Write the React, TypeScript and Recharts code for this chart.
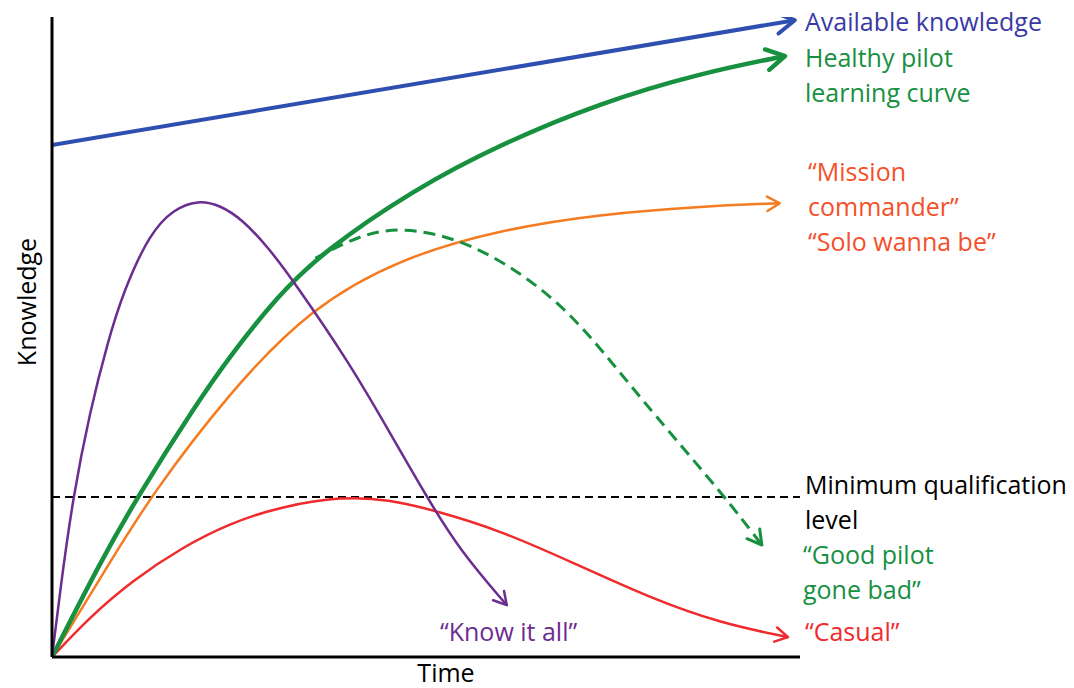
import { LineChart, Line, XAxis, YAxis, ReferenceLine } from 'recharts'

// Series points (x = time 0..100, y = knowledge 0..100)
const available = [
  { x: 0, y: 80 },
  { x: 99.3, y: 99.5 },
]

const healthy = [
  { x: 0, y: 0 },
  { x: 6.4, y: 14.7 },
  { x: 11.4, y: 25 },
  { x: 19.4, y: 39.7 },
  { x: 23.8, y: 47 },
  { x: 30, y: 56.2 },
  { x: 36.2, y: 63.3 },
  { x: 48.3, y: 73 },
  { x: 59.9, y: 80.1 },
  { x: 73.3, y: 86.6 },
  { x: 86.6, y: 91.2 },
  { x: 98, y: 93.9 },
]

const mission = [
  { x: 0, y: 0 },
  { x: 7.7, y: 14.7 },
  { x: 13.1, y: 25 },
  { x: 23.8, y: 41.5 },
  { x: 34.5, y: 54.5 },
  { x: 46.5, y: 62.3 },
  { x: 60, y: 66.8 },
  { x: 73.3, y: 69.2 },
  { x: 86.6, y: 70.4 },
  { x: 97.3, y: 70.9 },
]

const knowItAll = [
  { x: 0, y: 0 },
  { x: 1.1, y: 10.5 },
  { x: 2.8, y: 25 },
  { x: 5.1, y: 38.5 },
  { x: 7.4, y: 49 },
  { x: 9.5, y: 57 },
  { x: 13.1, y: 66.3 },
  { x: 16.3, y: 70 },
  { x: 19.5, y: 71.4 },
  { x: 22.5, y: 70.6 },
  { x: 25.5, y: 68.3 },
  { x: 28.9, y: 64 },
  { x: 32.2, y: 58.9 },
  { x: 39.8, y: 45.9 },
  { x: 45, y: 35.4 },
  { x: 50.1, y: 25 },
  { x: 54.5, y: 16.7 },
  { x: 60.8, y: 8.1 },
]

const casual = [
  { x: 0, y: 0 },
  { x: 5.1, y: 6.3 },
  { x: 10.8, y: 12 },
  { x: 17.5, y: 17.2 },
  { x: 23.8, y: 20.9 },
  { x: 30.5, y: 23.5 },
  { x: 38.9, y: 25.1 },
  { x: 45, y: 24.6 },
  { x: 50.9, y: 23 },
  { x: 59.9, y: 19.8 },
  { x: 69.7, y: 14.7 },
  { x: 80, y: 9.2 },
  { x: 89.3, y: 5.3 },
  { x: 98.4, y: 3.1 },
]

const goneBad = [
  { x: 35.2, y: 62.3 },
  { x: 41.2, y: 66 },
  { x: 46.9, y: 67.2 },
  { x: 54.6, y: 65.3 },
  { x: 62.2, y: 60.5 },
  { x: 68.9, y: 54.2 },
  { x: 74.6, y: 46.4 },
  { x: 80, y: 38.6 },
  { x: 90, y: 25 },
  { x: 94.9, y: 17.5 },
]

const minQualification = 25

const BLUE = '#2f4fb0'
const GREEN = '#17903f'
const ORANGE = '#f47b20'
const PURPLE = '#6b2d8f'
const RED = '#ef2b2d'

const font = '"Open Sans", Lato, sans-serif'

function Arrow({ id, color, size, width }: { id: string; color: string; size: number; width: number }) {
  return (
    <marker
      id={id}
      viewBox="0 0 20 20"
      refX={18}
      refY={10}
      markerWidth={size}
      markerHeight={size}
      markerUnits="userSpaceOnUse"
      orient="auto"
    >
      <path
        d="M4,2 L18,10 L4,18"
        fill="none"
        stroke={color}
        strokeWidth={(width * 20) / size}
        strokeLinecap="round"
        strokeLinejoin="round"
        strokeDasharray="none"
      />
    </marker>
  )
}

const label = (text: string, left: number, top: number, color: string) => (
  <div
    style={{
      position: 'absolute',
      left,
      top,
      color,
      fontFamily: font,
      fontSize: 25,
      lineHeight: '35px',
      whiteSpace: 'pre',
    }}
  >
    {text}
  </div>
)

export default function App() {
  return (
    <div style={{ position: 'absolute', left: 0, top: 0, width: 1074, height: 688, background: '#fff' }}>
      <svg width={0} height={0} style={{ position: 'absolute' }}>
        <defs>
          <Arrow id="arBlue" color={BLUE} size={26} width={4} />
          <Arrow id="arGreen" color={GREEN} size={26} width={4.5} />
          <Arrow id="arOrange" color={ORANGE} size={18} width={2.5} />
          <Arrow id="arPurple" color={PURPLE} size={18} width={2.5} />
          <Arrow id="arRed" color={RED} size={18} width={2.5} />
          <Arrow id="arGreenD" color={GREEN} size={20} width={3} />
        </defs>
      </svg>
      <LineChart width={1074} height={688} margin={{ top: 17, left: 52, right: 274, bottom: 31 }}>
        <XAxis type="number" dataKey="x" domain={[0, 100]} hide allowDataOverflow />
        <YAxis type="number" dataKey="y" domain={[0, 100]} hide allowDataOverflow />
        <ReferenceLine y={minQualification} stroke="#000" strokeWidth={2.2} strokeDasharray="8 5" />
        <Line
          data={available}
          dataKey="y"
          type="linear"
          stroke={BLUE}
          strokeWidth={4}
          dot={false}
          activeDot={false}
          markerEnd="url(#arBlue)"
          isAnimationActive={false}
        />
        <Line
          data={mission}
          dataKey="y"
          type="basis"
          stroke={ORANGE}
          strokeWidth={2.5}
          dot={false}
          activeDot={false}
          markerEnd="url(#arOrange)"
          isAnimationActive={false}
        />
        <Line
          data={casual}
          dataKey="y"
          type="basis"
          stroke={RED}
          strokeWidth={2.5}
          dot={false}
          activeDot={false}
          markerEnd="url(#arRed)"
          isAnimationActive={false}
        />
        <Line
          data={goneBad}
          dataKey="y"
          type="basis"
          stroke={GREEN}
          strokeWidth={3}
          strokeDasharray="12 7"
          dot={false}
          activeDot={false}
          markerEnd="url(#arGreenD)"
          isAnimationActive={false}
        />
        <Line
          data={healthy}
          dataKey="y"
          type="basis"
          stroke={GREEN}
          strokeWidth={4.5}
          dot={false}
          activeDot={false}
          markerEnd="url(#arGreen)"
          isAnimationActive={false}
        />
        <Line
          data={knowItAll}
          dataKey="y"
          type="basis"
          stroke={PURPLE}
          strokeWidth={2.5}
          dot={false}
          activeDot={false}
          markerEnd="url(#arPurple)"
          isAnimationActive={false}
        />
        {/* axes */}
        <ReferenceLine x={0} stroke="#000" strokeWidth={3} />
        <ReferenceLine y={0} stroke="#000" strokeWidth={3} />
      </LineChart>

      {label('Available knowledge', 805, 4, '#3a3aa6')}
      {label('Healthy pilot\nlearning curve', 805, 40, GREEN)}
      {label('\u201CMission\ncommander\u201D\n\u201CSolo wanna be\u201D', 808, 154, '#f4502a')}
      {label('Minimum qualification\nlevel', 805, 467, '#000')}
      {label('\u201CGood pilot\ngone bad\u201D', 803, 537, GREEN)}
      {label('\u201CCasual\u201D', 805, 614, RED)}
      {label('\u201CKnow it all\u201D', 440, 614, PURPLE)}
      <div
        style={{
          position: 'absolute',
          left: 446,
          top: 672,
          transform: 'translate(-50%, -50%)',
          fontFamily: font,
          fontSize: 25,
          color: '#000',
        }}
      >
        Time
      </div>
      <div
        style={{
          position: 'absolute',
          left: 26,
          top: 302,
          transform: 'translate(-50%, -50%) rotate(-90deg)',
          fontFamily: font,
          fontSize: 25,
          color: '#000',
        }}
      >
        Knowledge
      </div>
    </div>
  )
}
